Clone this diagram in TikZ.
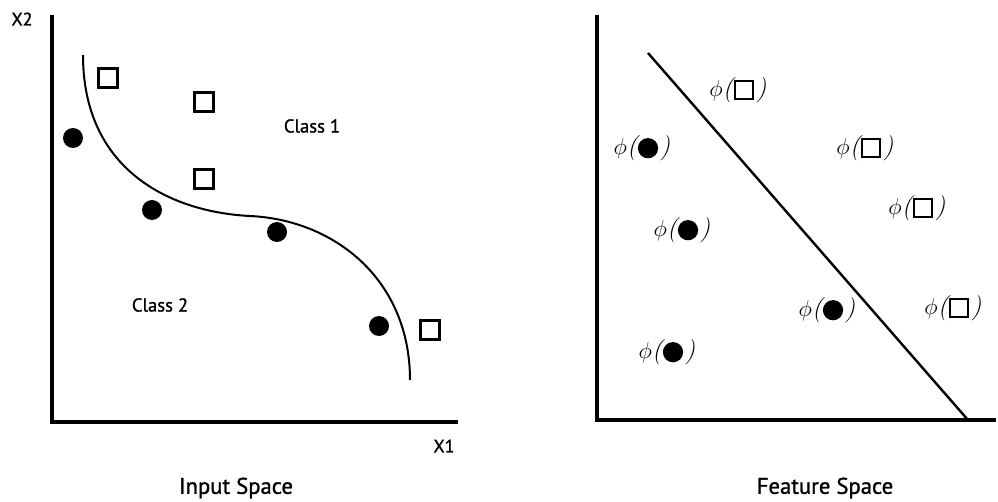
\documentclass[tikz,border=0pt]{standalone}
\usepackage{fontspec}
\setmainfont{PT Sans}
\newfontfamily\lblfont{PT Sans}[FakeBold=1.2]
\usetikzlibrary{calc}
\tikzset{
  axis/.style={line width=3pt},
  dot/.style={circle, fill=black, inner sep=0pt, minimum size=15pt},
  sq/.style={rectangle, draw=black, line width=2pt, inner sep=0pt, minimum size=14pt},
  lbl/.style={inner sep=0pt, font=\lblfont\fontsize{14}{16}\selectfont},
  big/.style={inner sep=0pt, font=\lblfont\fontsize{17}{20}\selectfont},
  axl/.style={inner sep=0pt, font=\lblfont\fontsize{13.5}{15}\selectfont},
  phil/.style={inner sep=0pt, font=\fontsize{19}{22}\selectfont},
}
\newcommand{\lmparL}{{\fontfamily{lmr}\selectfont\itshape(\kern0.5pt}}
\newcommand{\lmparR}{{\fontfamily{lmr}\selectfont\itshape\kern1.5pt)}}
\newcommand{\phisq}{$\phi$\lmparL\raisebox{-3pt}{\tikz\draw[line width=1.6pt] (0,0) rectangle (14pt,14pt);}\lmparR}
\newcommand{\phidot}{$\phi$\lmparL\raisebox{-3pt}{\tikz\fill (7.5pt,7.5pt) circle (7.6pt);}\lmparR}
\begin{document}
\begin{tikzpicture}[x=0.75pt,y=-0.75pt]
\useasboundingbox (0,0) rectangle (998,502);
% left plot axes
\coordinate (lt) at (52,15);
\coordinate (lo) at (52,422);
\coordinate (lr) at (458,422);
\draw[axis] (lt) -- (lo) -- (lr);
\node[axl] (x2) at (22,19) {X2};
\node[axl] (x1) at (444,446) {X1};
% decision curve
\coordinate (c0) at (83,55);
\coordinate (c1) at (250,216);
\coordinate (c2) at (410,380);
\draw[line width=1.5pt] (c0) .. controls (83,170) and (170,212) .. (c1)
  .. controls (335,220) and (410,280) .. (c2);
% points
\node[dot] (d1) at (73,138) {};
\node[dot] (d2) at (152,210) {};
\node[dot] (d3) at (277,232) {};
\node[dot] (d4) at (379,326) {};
\node[sq] (s1) at (108,78) {};
\node[sq] (s2) at (204,102) {};
\node[sq] (s3) at (204,179) {};
\node[sq] (s4) at (430,330) {};
\node[lbl] (cl1) at (312,126) {Class 1};
\node[lbl] (cl2) at (160,305) {Class 2};
\node[big] (in) at (236,488) {Input Space};
% right plot axes
\coordinate (rt) at (597,15);
\coordinate (ro) at (597,420);
\coordinate (rr) at (996,420);
\draw[axis] (rt) -- (ro) -- (rr);
\coordinate (h0) at (648,53);
\coordinate (h1) at (968,420);
\draw[line width=1.8pt] (h0) -- (h1);
\node[phil] (p1) at (738,90) {\phisq};
\node[phil] (p2) at (642,148) {\phidot};
\node[phil] (p3) at (865,148) {\phisq};
\node[phil] (p4) at (917,208) {\phisq};
\node[phil] (p5) at (682,230) {\phidot};
\node[phil] (p6) at (827,310) {\phidot};
\node[phil] (p7) at (953,308) {\phisq};
\node[phil] (p8) at (667,352) {\phidot};
\node[big] (fs) at (825,488) {Feature Space};
\end{tikzpicture}
\end{document}
